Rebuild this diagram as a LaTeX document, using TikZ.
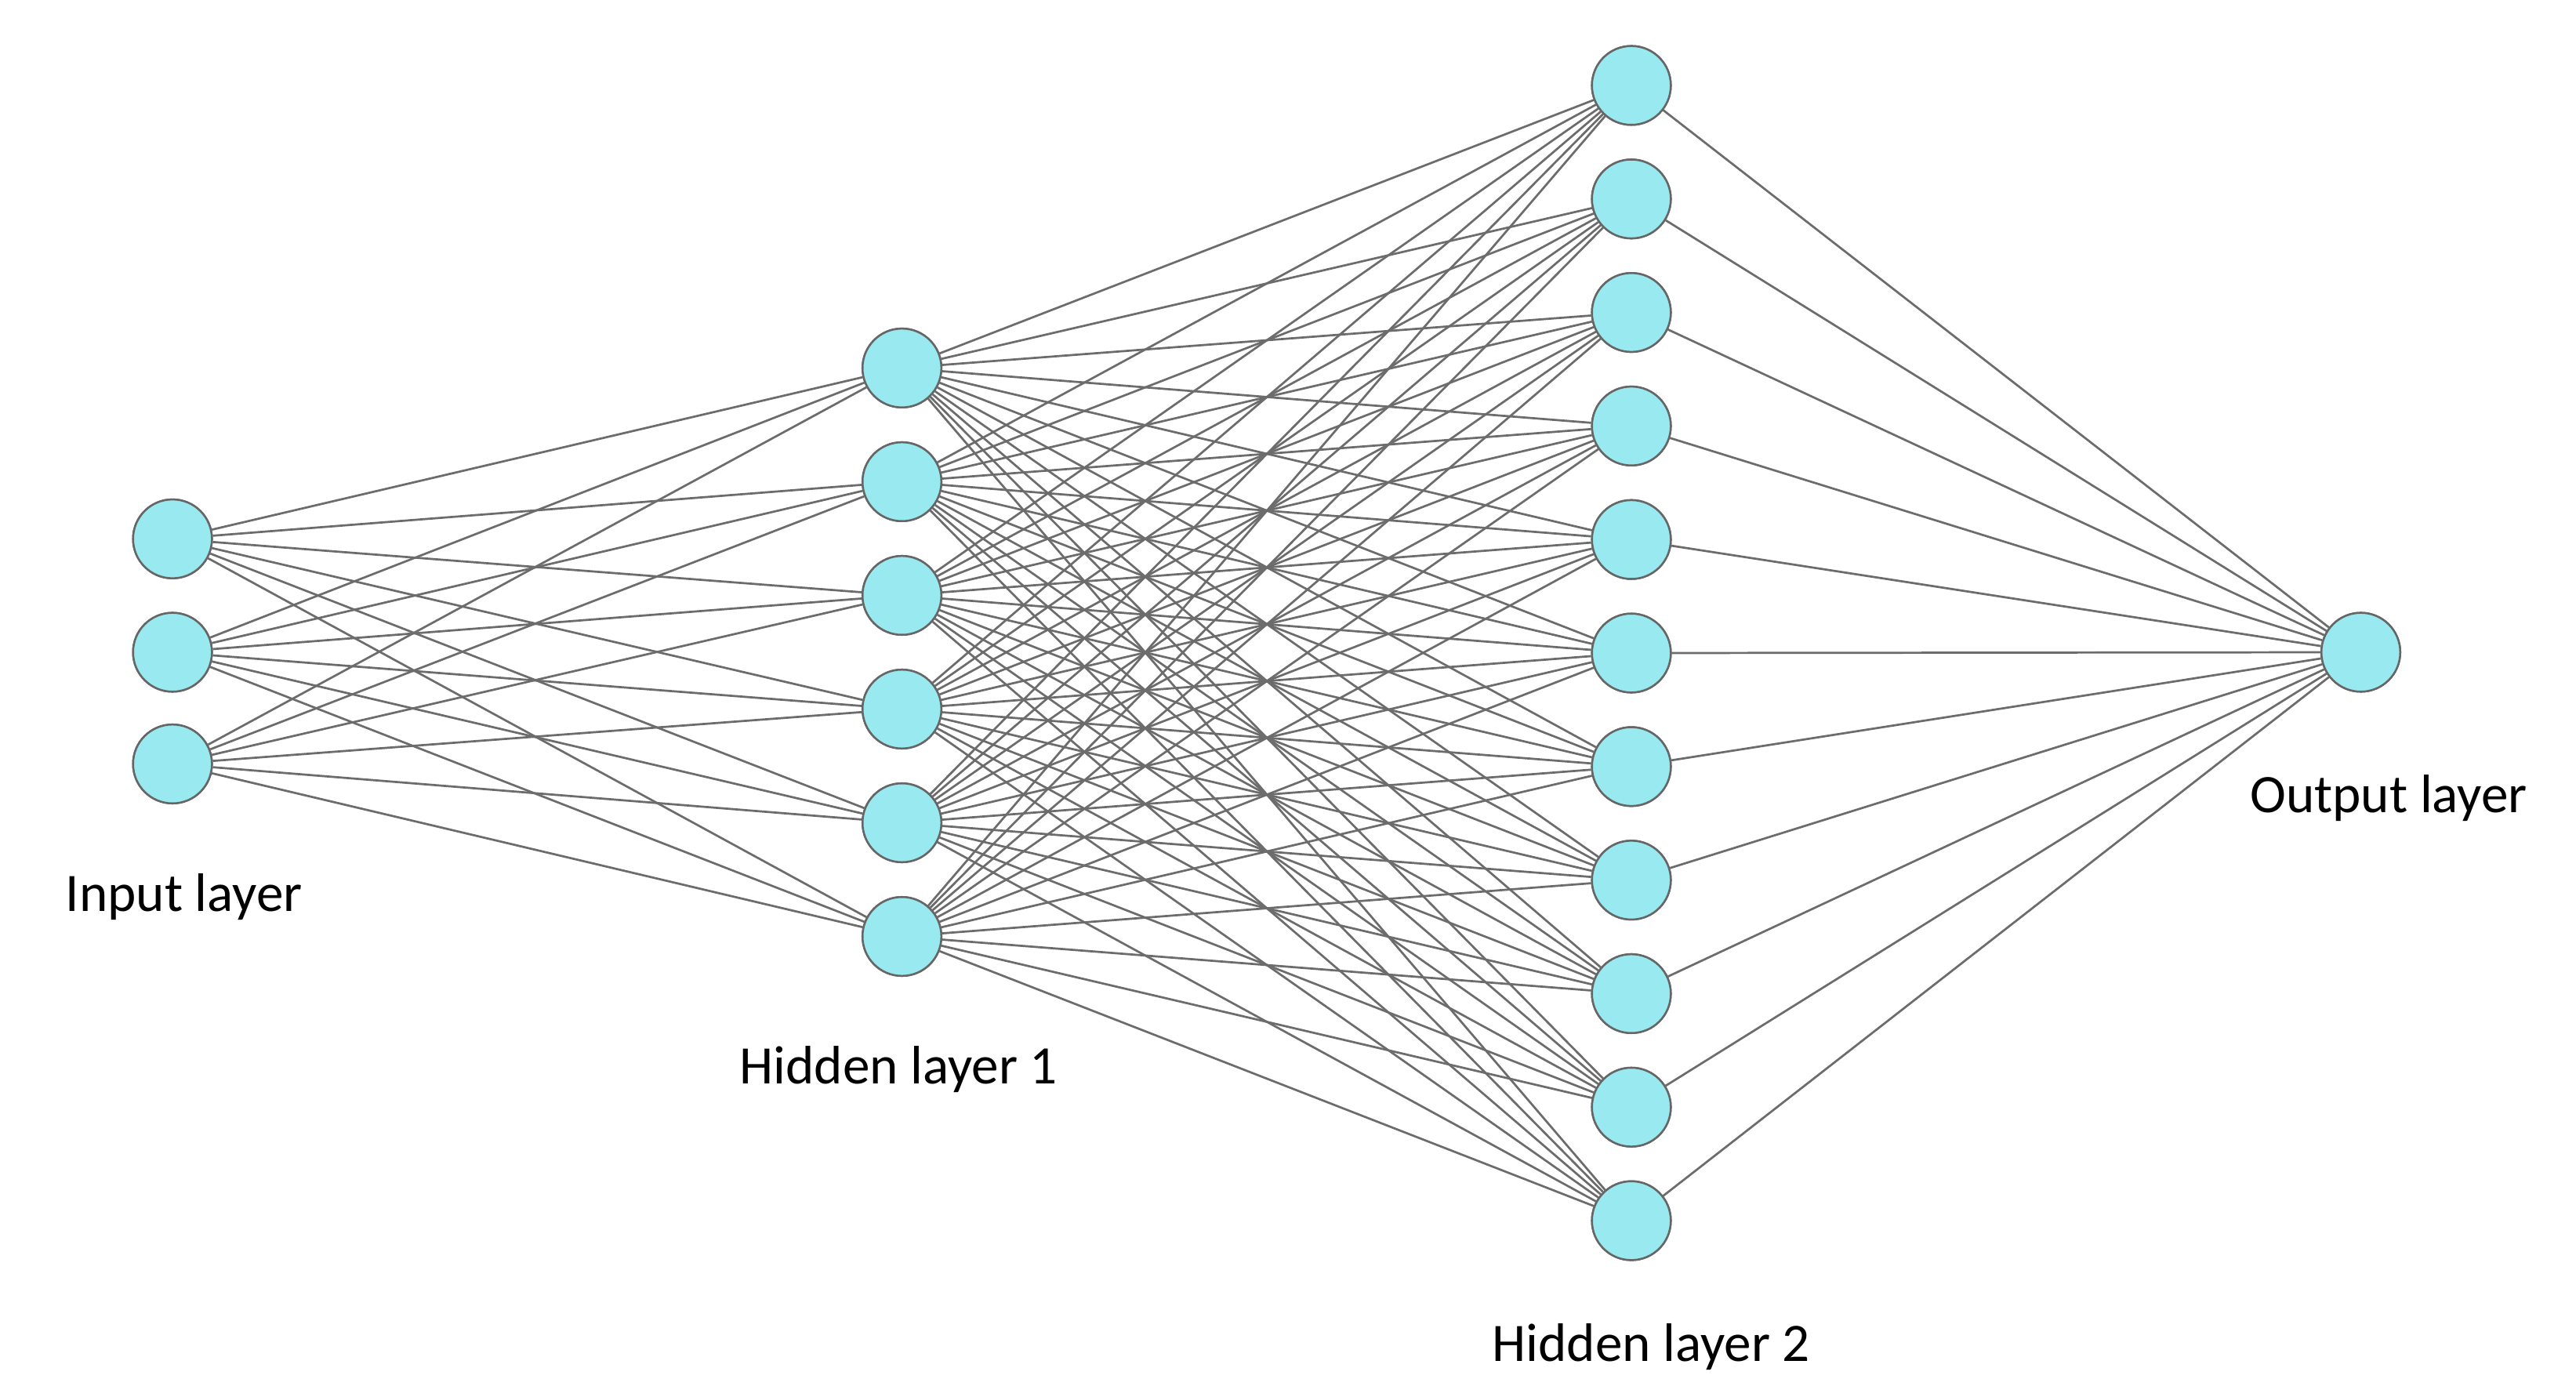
\documentclass[tikz,border=0pt]{standalone}
\usepackage{fontspec}
\setmainfont{Carlito}
\begin{document}
\begin{tikzpicture}[x=1pt,y=-1pt,
  neuron/.style={circle,draw=gray!80!black,line width=1.2pt,fill={rgb,255:red,153;green,234;blue,240},minimum size=48pt,inner sep=0pt},
  edge/.style={draw=gray!85!black,line width=1.3pt},
  lab/.style={font=\fontsize{33}{38}\selectfont}]
\useasboundingbox (0,0) rectangle (1568,850);
\foreach \i/\y in {1/328,2/397,3/465} \node[neuron] (a\i) at (105,\y) {};
\foreach \i in {1,...,6} \node[neuron] (b\i) at (549,{224+(\i-1)*69.2}) {};
\foreach \i in {1,...,11} \node[neuron] (c\i) at (993,{52+(\i-1)*69.1}) {};
\node[neuron] (d1) at (1437,397) {};
\begin{scope}[on background layer/.try]
\end{scope}
\foreach \i in {1,2,3} \foreach \j in {1,...,6} \path[edge] (a\i) -- (b\j);
\foreach \i in {1,...,6} \foreach \j in {1,...,11} \path[edge] (b\i) -- (c\j);
\foreach \j in {1,...,11} \path[edge] (c\j) -- (d1);
\foreach \i in {1,2,3} \node[neuron] at (a\i) {};
\foreach \i in {1,...,6} \node[neuron] at (b\i) {};
\foreach \i in {1,...,11} \node[neuron] at (c\i) {};
\node[neuron] at (d1) {};
\node[lab] (l1) at (112,546) {Input layer};
\node[lab] (l2) at (547,651) {Hidden layer 1};
\node[lab] (l3) at (1005,820) {Hidden layer 2};
\node[lab] (l4) at (1454,486) {Output layer};
\end{tikzpicture}
\end{document}
